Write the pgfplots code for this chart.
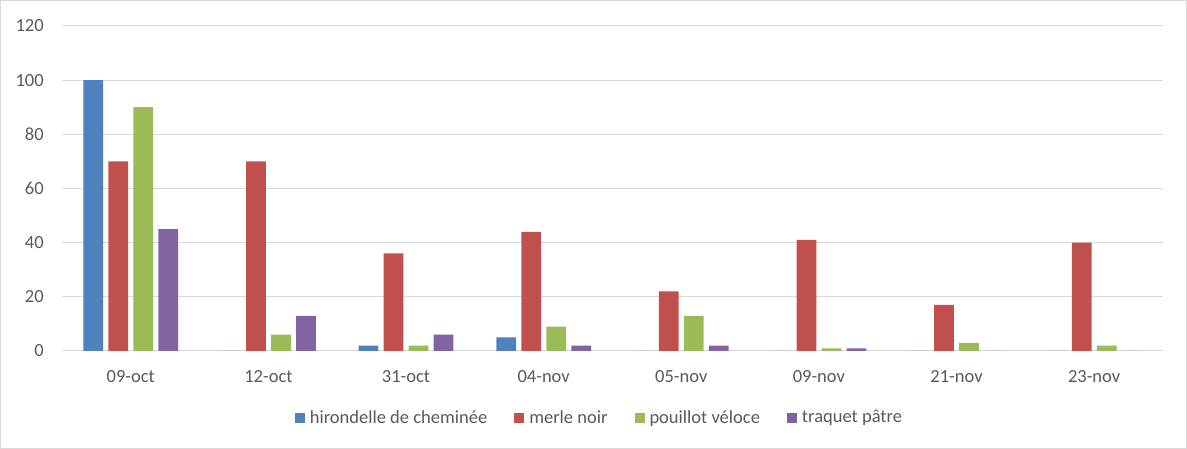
\documentclass[border=0pt]{standalone}
\usepackage{fontspec}
\setmainfont{Carlito}
\usepackage{pgfplots}
\pgfplotsset{compat=1.18}
\definecolor{cblue}{HTML}{4F81BD}
\definecolor{cred}{HTML}{C0504D}
\definecolor{cgreen}{HTML}{9BBB59}
\definecolor{cpurple}{HTML}{8064A2}
\definecolor{tickgray}{HTML}{595959}
\definecolor{gridgray}{HTML}{D9D9D9}
\begin{document}
\fontsize{18.5pt}{22pt}\selectfont
\begin{tikzpicture}[x=1pt,y=1pt]
\draw[gridgray, line width=1pt] (0.5,0.5) rectangle (1186.5,448.5);
\begin{axis}[
  at={(62pt,98pt)}, anchor=south west,
  scale only axis, width=1101pt, height=325pt,
  ybar=5.3pt, bar width=19.7pt,
  xmin=-0.5, xmax=7.5, ymin=0, ymax=120,
  xtick={0,1,2,3,4,5,6,7},
  xticklabels={09-oct,12-oct,31-oct,04-nov,05-nov,09-nov,21-nov,23-nov},
  ytick={0,20,40,60,80,100,120},
  ymajorgrids, grid style={gridgray, line width=1pt},
  axis line style={draw=none},
  major tick length=0pt,
  tick style={draw=none},
  /pgf/number format/assume math mode=true,
  ticklabel style={font=\fontsize{18.5pt}{22pt}\selectfont, text=tickgray},
  yticklabel style={xshift=-12pt},
  xticklabel style={yshift=-13pt},
  legend columns=4,
  legend style={draw=none, fill=none, at={(0.5,0)}, anchor=center, xshift=-13pt, yshift=-67pt,
    font=\fontsize{18.5pt}{22pt}\selectfont, text=tickgray,
    /tikz/every odd column/.append style={column sep=3pt},
    /tikz/every even column/.append style={column sep=25pt},
    nodes={inner sep=2pt}},
  legend image code/.code={\fill[#1] (0pt,-5pt) rectangle (10pt,5pt);},
]
\addplot[fill=cblue, draw=none] coordinates {(0,100) (1,0) (2,2) (3,5) (4,0) (5,0) (6,0) (7,0)};
\addplot[fill=cred, draw=none] coordinates {(0,70) (1,70) (2,36) (3,44) (4,22) (5,41) (6,17) (7,40)};
\addplot[fill=cgreen, draw=none] coordinates {(0,90) (1,6) (2,2) (3,9) (4,13) (5,1) (6,3) (7,2)};
\addplot[fill=cpurple, draw=none] coordinates {(0,45) (1,13) (2,6) (3,2) (4,2) (5,1) (6,0) (7,0)};
\legend{hirondelle de cheminée, merle noir, pouillot véloce, traquet pâtre}
\end{axis}
\end{tikzpicture}
\end{document}
